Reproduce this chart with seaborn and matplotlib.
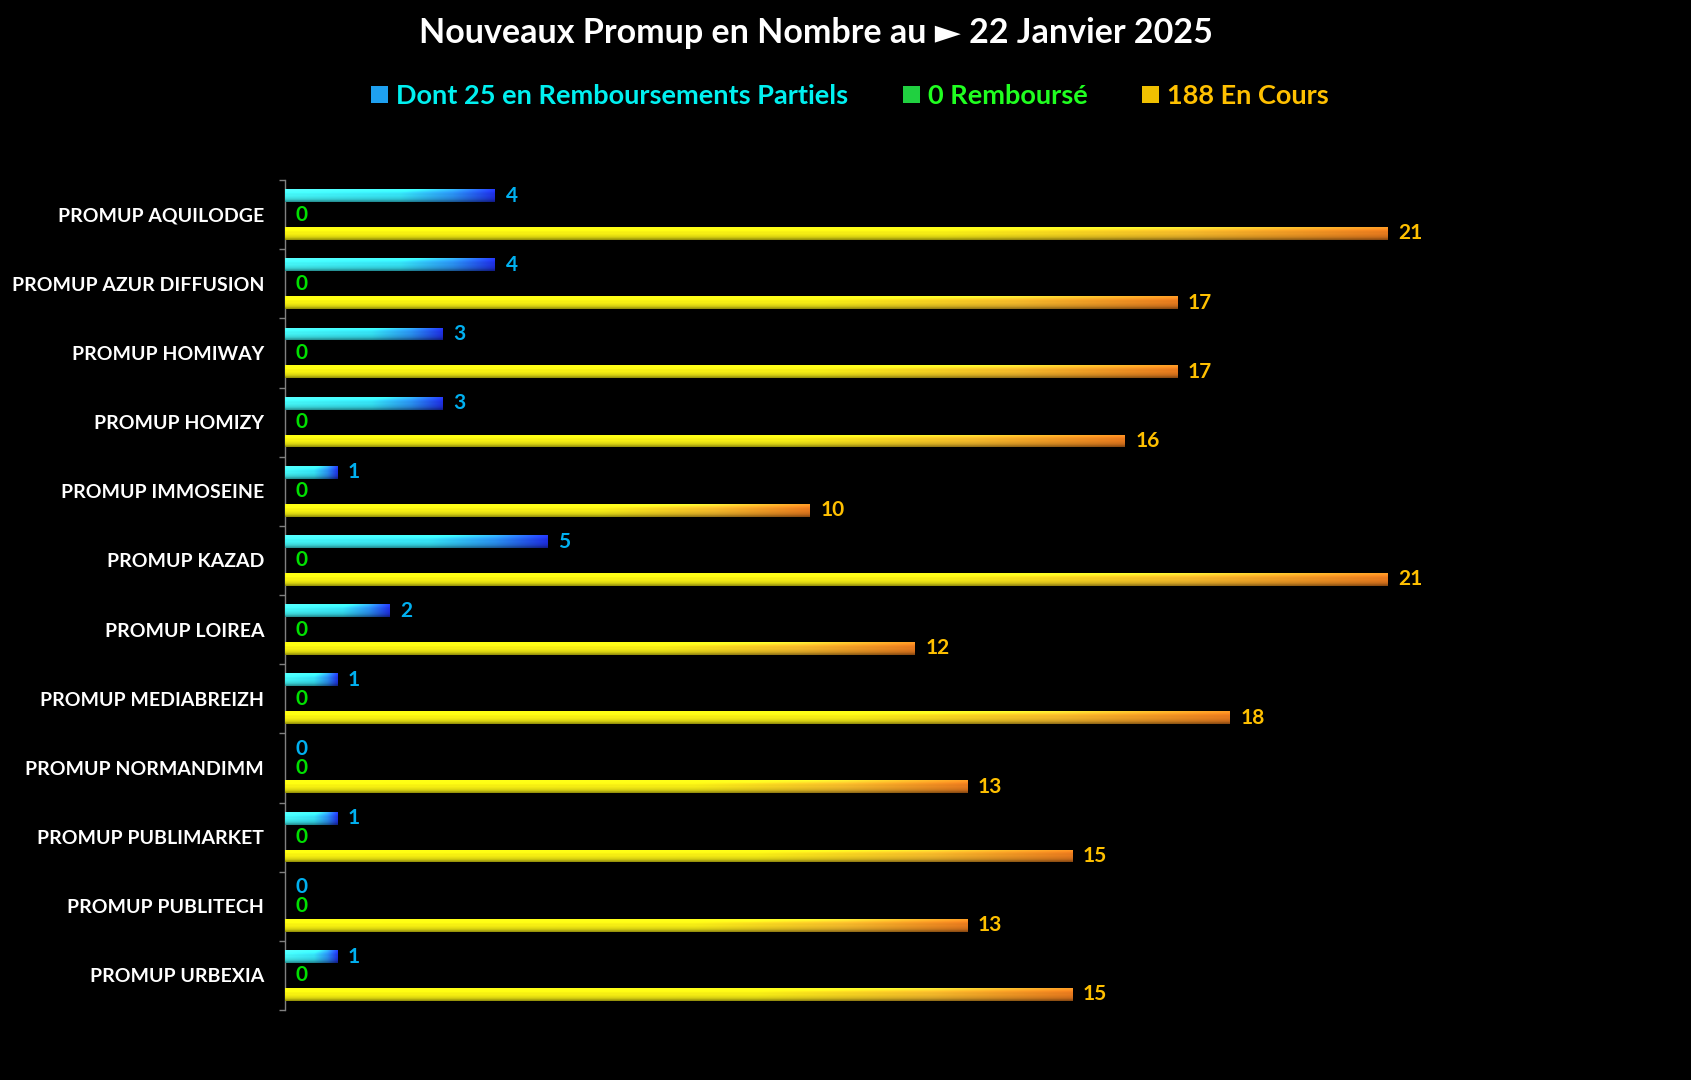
import numpy as np
import pandas as pd
import matplotlib
matplotlib.use("Agg")
import matplotlib.pyplot as plt
from matplotlib.colors import LinearSegmentedColormap
from matplotlib.patches import Patch
import seaborn as sns

# Chart data
programmes = [
    "PROMUP AQUILODGE", "PROMUP AZUR DIFFUSION", "PROMUP HOMIWAY", "PROMUP HOMIZY",
    "PROMUP IMMOSEINE", "PROMUP KAZAD", "PROMUP LOIREA", "PROMUP MEDIABREIZH",
    "PROMUP NORMANDIMM", "PROMUP PUBLIMARKET", "PROMUP PUBLITECH", "PROMUP URBEXIA",
]
partiels = [4, 4, 3, 3, 1, 5, 2, 1, 0, 1, 0, 1]
rembourses = [0, 0, 0, 0, 0, 0, 0, 0, 0, 0, 0, 0]
en_cours = [21, 17, 17, 16, 10, 21, 12, 18, 13, 15, 13, 15]
series = ["Dont 25 en Remboursements Partiels", "0 Remboursé", "188 En Cours"]

# colours of each series
label_colors = ["#00B0F0", "#00E000", "#FFC000"]
legend_text_colors = ["#00F0F0", "#20FF20", "#FFC000"]
legend_marker_colors = ["#1EA0F0", "#20D040", "#F0C000"]
gradients = [
    [(0.0, "#45F5F5"), (0.55, "#35E0F2"), (0.8, "#2A90EE"), (1.0, "#1E2EE0")],
    [(0.0, "#60FF60"), (0.5, "#20D020"), (1.0, "#108010")],
    [(0.0, "#F8F210"), (0.6, "#F5EC15"), (0.82, "#F2B82A"), (1.0, "#E67A1E")],
]

# long table for seaborn
df = pd.DataFrame({
    "programme": programmes * 3,
    "valeur": partiels + rembourses + en_cours,
    "serie": [series[0]] * 12 + [series[1]] * 12 + [series[2]] * 12,
})

sns.set_style("dark", {"axes.facecolor": "black", "figure.facecolor": "black"})
plt.rcParams["font.family"] = ["Lato", "DejaVu Sans"]

W, H = 1691, 1080
fig = plt.figure(figsize=(W / 100, H / 100), dpi=100)
fig.patch.set_facecolor("black")

left_px, right_px, top_px, bottom_px = 285, 1600, 180, 1010
ax = fig.add_axes([left_px / W, 1 - bottom_px / H, (right_px - left_px) / W, (bottom_px - top_px) / H])
ax.set_facecolor("black")

sns.barplot(data=df, x="valeur", y="programme", hue="serie", orient="h",
            width=0.82, gap=0.32, palette=legend_marker_colors, legend=False, ax=ax)

xmax = (right_px - left_px) / 52.5

# gradient fill for every bar, clipped to the bar shape
for k, container in enumerate(ax.containers):
    cmap = LinearSegmentedColormap.from_list("g%d" % k, gradients[k])
    row = cmap(np.linspace(0, 1, 256))[:, :3]
    shade = np.array([1.3, 1.18, 1.06, 1.0, 1.0, 0.96, 0.9, 0.8, 0.62])
    img = np.clip(row[None, :, :] * shade[:, None, None], 0, 1)
    for bar in container:
        bar.set_edgecolor("none")
        x0, y0 = bar.get_x(), bar.get_y()
        w, h = bar.get_width(), bar.get_height()
        if w <= 0:
            continue
        im = ax.imshow(img, extent=(x0, x0 + w, y0 + h, y0), aspect="auto",
                       interpolation="bilinear", zorder=3)
        im.set_clip_path(bar)

# value labels
values = [partiels, rembourses, en_cours]
for k, container in enumerate(ax.containers):
    for bar, v in zip(container, values[k]):
        yc = bar.get_y() + bar.get_height() / 2
        ax.text(v + 0.2, yc, str(v), ha="left", va="center", color=label_colors[k],
                fontsize=15, fontweight="bold", zorder=5)

ax.set_xlim(0, xmax)
ax.set_ylim(len(programmes) - 0.5, -0.5)
ax.set_xlabel("")
ax.set_ylabel("")
ax.set_xticks([])
ax.grid(False)

ax.tick_params(axis="y", which="major", length=0, pad=15, colors="white", labelsize=14)
for lab in ax.get_yticklabels():
    lab.set_fontweight("bold")
    lab.set_color("white")
ax.set_yticks(np.arange(-0.5, len(programmes), 1.0), minor=True)
ax.tick_params(axis="y", which="minor", length=4.5, width=1, color="#808080", left=True)

for side in ["top", "right", "bottom"]:
    ax.spines[side].set_visible(False)
ax.spines["left"].set_color("#808080")
ax.spines["left"].set_linewidth(1)

# title
fig.text(816 / W, 1 - 33 / H, "Nouveaux Promup en Nombre au \u25BA 22 Janvier 2025",
         ha="center", va="center", color="white", fontsize=24.5, fontweight="bold")

# legend
handles = [Patch(facecolor=c, edgecolor="none") for c in legend_marker_colors]
leg = fig.legend(handles, series, loc="center", bbox_to_anchor=(850 / W, 1 - 96 / H),
                 ncol=3, frameon=False, handlelength=0.63, handleheight=0.63,
                 handletextpad=0.3, columnspacing=2.0,
                 prop={"size": 19.5, "weight": "bold"})
for txt, c in zip(leg.get_texts(), legend_text_colors):
    txt.set_color(c)

fig.savefig("out.png", dpi=100, facecolor="black")
